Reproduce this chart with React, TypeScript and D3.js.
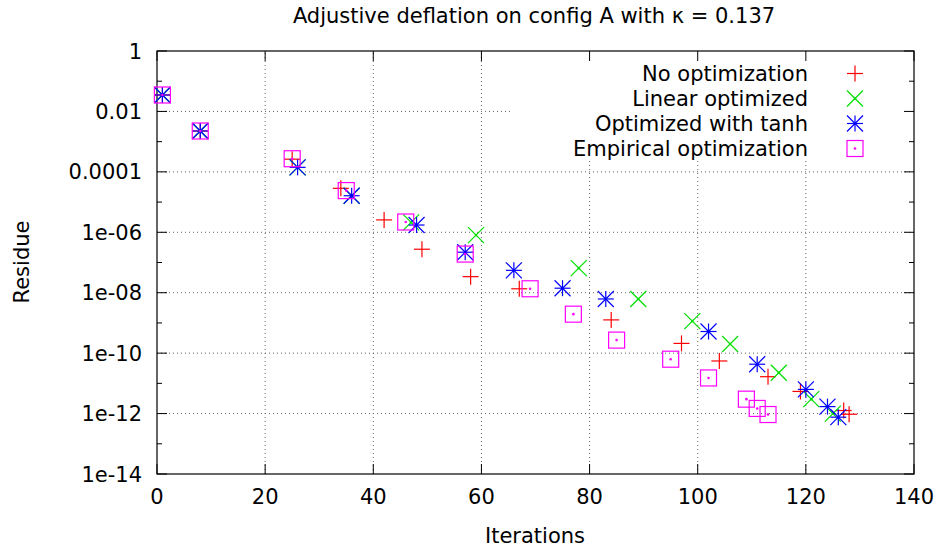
import React from "react";
import * as d3 from "d3";

const W = 942;
const H = 547;

// Data (iteration, residue)
const noOptIter = [1, 8, 25, 34, 42, 49, 58, 67, 84, 97, 104, 113, 119, 127, 128];
const noOptRes = [3.5e-2, 2.25e-3, 2.63e-4, 2.85e-5, 2.57e-6, 2.75e-7, 3.4e-8, 1.35e-8, 1.26e-9, 2.1e-10, 5.5e-11, 1.66e-11, 5.4e-12, 1.26e-12, 9.5e-13];

const linIter = [1, 8, 26, 36, 47, 59, 78, 89, 99, 106, 115, 121, 125];
const linRes = [3.5e-2, 2.25e-3, 1.41e-4, 1.62e-5, 2.14e-6, 8.1e-7, 6.5e-8, 6.2e-9, 1.15e-9, 2.0e-10, 2.24e-11, 3.0e-12, 1.0e-12];

const tanhIter = [1, 8, 26, 36, 48, 57, 66, 75, 83, 102, 111, 120, 124, 126];
const tanhRes = [3.5e-2, 2.25e-3, 1.41e-4, 1.62e-5, 1.74e-6, 2.19e-7, 5.5e-8, 1.41e-8, 6.2e-9, 5.2e-10, 4.3e-11, 6.3e-12, 1.7e-12, 7.6e-13];

const empIter = [1, 8, 25, 35, 46, 57, 69, 77, 85, 95, 102, 109, 111, 113];
const empRes = [3.5e-2, 2.25e-3, 2.72e-4, 2.4e-5, 2.19e-6, 1.9e-7, 1.35e-8, 1.95e-9, 2.7e-10, 6.3e-11, 1.51e-11, 3.0e-12, 1.48e-12, 9.3e-13];

const seriesNames = ["No optimization", "Linear optimized", "Optimized with tanh", "Empirical optimization"];
const seriesColors = ["#ff0000", "#00e000", "#0000ff", "#ff00ff"];
const seriesShapes = ["plus", "cross", "star", "square"];

const xTicks = [0, 20, 40, 60, 80, 100, 120, 140];
const yMajorTicks = [1, 1e-2, 1e-4, 1e-6, 1e-8, 1e-10, 1e-12, 1e-14];
const yTickLabels = ["1", "0.01", "0.0001", "1e-06", "1e-08", "1e-10", "1e-12", "1e-14"];
const yMinorTicks = [1e-1, 1e-3, 1e-5, 1e-7, 1e-9, 1e-11, 1e-13];

const title = "Adjustive deflation on config A with κ = 0.137";
const xLabel = "Iterations";
const yLabel = "Residue";

const FONT = "'DejaVu Sans', sans-serif";
const FS = 21;

const L = 157, R = 914, T = 51, B = 474;

function Marker({ shape, x, y, color }: { shape: string; x: number; y: number; color: string }) {
  const s = 8;
  const sw = 1.2;
  const common = { stroke: color, strokeWidth: sw, fill: "none" } as any;
  const dot = <circle cx={x} cy={y} r={1.3} fill={color} />;
  if (shape === "plus") {
    return (
      <g>
        <line x1={x - s} y1={y} x2={x + s} y2={y} {...common} />
        <line x1={x} y1={y - s} x2={x} y2={y + s} {...common} />
      </g>
    );
  }
  if (shape === "cross") {
    return (
      <g>
        <line x1={x - s} y1={y - s} x2={x + s} y2={y + s} {...common} />
        <line x1={x - s} y1={y + s} x2={x + s} y2={y - s} {...common} />
        {dot}
      </g>
    );
  }
  if (shape === "star") {
    return (
      <g>
        <line x1={x - s} y1={y} x2={x + s} y2={y} {...common} />
        <line x1={x} y1={y - s} x2={x} y2={y + s} {...common} />
        <line x1={x - s} y1={y - s} x2={x + s} y2={y + s} {...common} />
        <line x1={x - s} y1={y + s} x2={x + s} y2={y - s} {...common} />
        {dot}
      </g>
    );
  }
  return (
    <g>
      <rect x={x - s} y={y - s} width={2 * s} height={2 * s} {...common} />
      {dot}
    </g>
  );
}

export default function App() {
  const x = d3.scaleLinear().domain([0, 140]).range([L, R]);
  const y = d3.scaleLog().domain([1e-14, 1]).range([B, T]);

  const series = [
    { iters: noOptIter, res: noOptRes },
    { iters: linIter, res: linRes },
    { iters: tanhIter, res: tanhRes },
    { iters: empIter, res: empRes },
  ];

  const gridColor = "#666";
  const dash = "1,3";

  // legend box
  const legL = 510, legT = T + 1, legB = 160;
  const legTextX = 808, legSymX = 855;
  const legRowY = (i: number) => 73.5 + i * 25;

  return (
    <svg width={W} height={H} style={{ position: "absolute", left: 0, top: 0, background: "#fff" }} fontFamily={FONT}>
      <rect x={0} y={0} width={W} height={H} fill="#fff" />
      {/* grid */}
      {xTicks.filter((t) => t > 0 && t < 140).map((t) => (
        <line key={"gx" + t} x1={x(t)} x2={x(t)} y1={B} y2={T} stroke={gridColor} strokeWidth={1} strokeDasharray={dash} />
      ))}
      {yMajorTicks.filter((t) => t < 1 && t > 1e-14).map((t) => (
        <line key={"gy" + t} x1={L} x2={R} y1={y(t)} y2={y(t)} stroke={gridColor} strokeWidth={1} strokeDasharray={dash} />
      ))}
      {/* opaque legend */}
      <rect x={legL} y={legT} width={R - legL - 1} height={legB - legT} fill="#fff" />
      {/* ticks */}
      {xTicks.map((t) => (
        <g key={"tx" + t}>
          <line x1={x(t)} x2={x(t)} y1={B} y2={B - 10} stroke="#000" />
          <line x1={x(t)} x2={x(t)} y1={T} y2={T + 10} stroke="#000" />
          <text x={x(t)} y={504} textAnchor="middle" fontSize={FS} fill="#000">{t}</text>
        </g>
      ))}
      {yMajorTicks.map((t, i) => (
        <g key={"ty" + t}>
          <line x1={L} x2={L + 10} y1={y(t)} y2={y(t)} stroke="#000" />
          <line x1={R} x2={R - 10} y1={y(t)} y2={y(t)} stroke="#000" />
          <text x={142} y={y(t)} dy="0.36em" textAnchor="end" fontSize={FS} fill="#000">{yTickLabels[i]}</text>
        </g>
      ))}
      {yMinorTicks.map((t) => (
        <g key={"tm" + t}>
          <line x1={L} x2={L + 5} y1={y(t)} y2={y(t)} stroke="#000" />
          <line x1={R} x2={R - 5} y1={y(t)} y2={y(t)} stroke="#000" />
        </g>
      ))}
      {/* frame */}
      <rect x={L} y={T} width={R - L} height={B - T} fill="none" stroke="#000" strokeWidth={1.2} />
      {/* points */}
      {series.map((s, si) => (
        <g key={"s" + si}>
          {s.iters.map((it, j) => (
            <Marker key={j} shape={seriesShapes[si]} x={x(it)} y={y(s.res[j])} color={seriesColors[si]} />
          ))}
        </g>
      ))}
      {/* legend */}
      {seriesNames.map((n, i) => (
        <g key={"lg" + i}>
          <text x={legTextX} y={legRowY(i)} dy="0.36em" textAnchor="end" fontSize={FS} fill="#000">{n}</text>
          <Marker shape={seriesShapes[i]} x={legSymX} y={legRowY(i)} color={seriesColors[i]} />
        </g>
      ))}
      {/* labels */}
      <text x={534} y={23} textAnchor="middle" fontSize={FS} fill="#000">{title}</text>
      <text x={535} y={543} textAnchor="middle" fontSize={FS} fill="#000">{xLabel}</text>
      <text transform={`translate(29,262) rotate(-90)`} textAnchor="middle" fontSize={FS} fill="#000">{yLabel}</text>
    </svg>
  );
}
